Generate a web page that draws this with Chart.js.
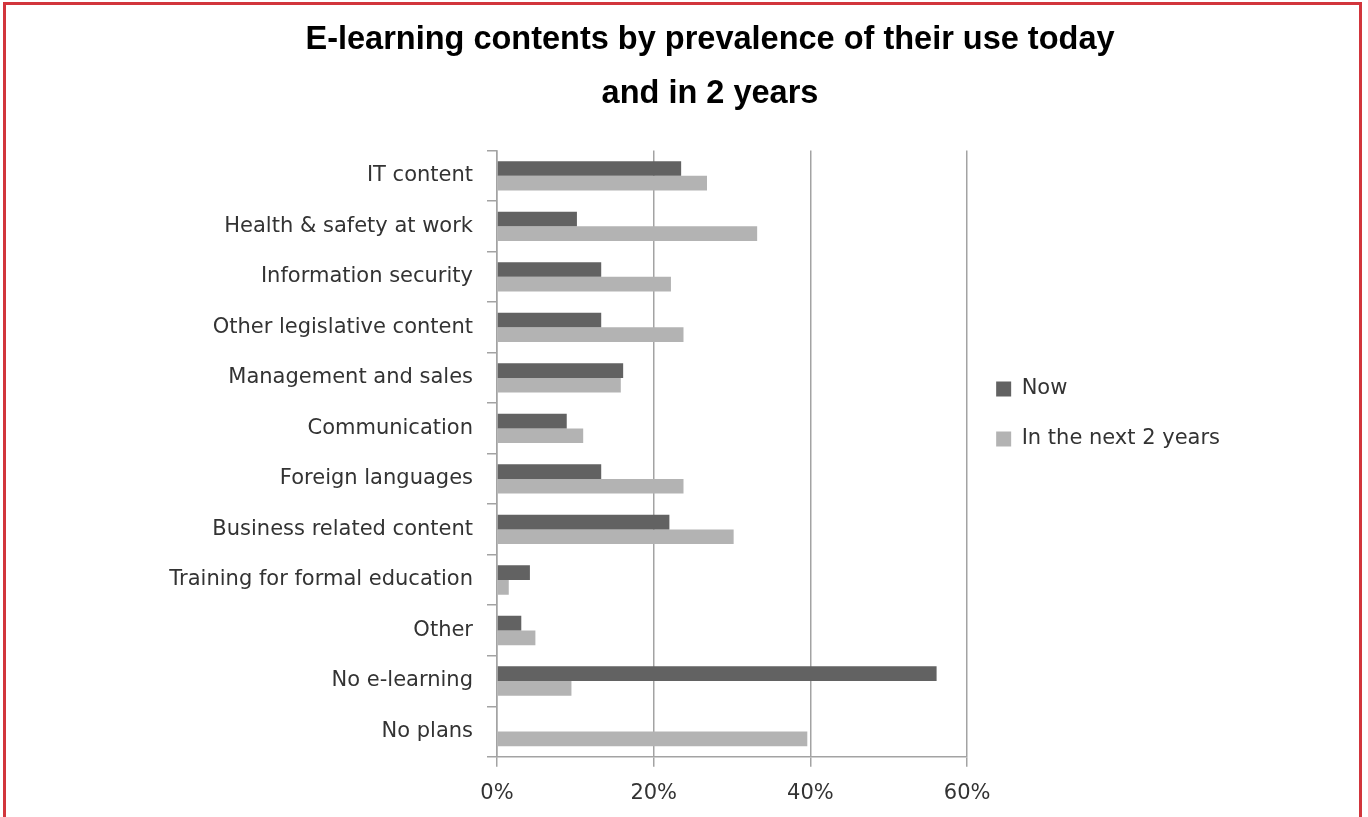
<!DOCTYPE html>
<html>
<head>
<meta charset="utf-8">
<script src="https://cdn.jsdelivr.net/npm/chart.js@4.4.1/dist/chart.umd.min.js"></script>
<style>
  html, body { margin: 0; padding: 0; background: #fff; overflow: hidden; }
  #frame { position: absolute; left: 3px; top: 2px; width: 1359px; height: 830px; border: 3px solid #d2353c; box-sizing: border-box; pointer-events: none; }
  #chart { position: absolute; left: 0; top: 0; }
</style>
</head>
<body>
<canvas id="chart" width="1368" height="817"></canvas>
<div id="frame"></div>
<script>
// categories, top to bottom
const categories = [
    "IT content",
    "Health & safety at work",
    "Information security",
    "Other legislative content",
    "Management and sales",
    "Communication",
    "Foreign languages",
    "Business related content",
    "Training for formal education",
    "Other",
    "No e-learning",
    "No plans",
];
// percentages
const nowValues = [23.5, 10.2, 13.3, 13.3, 16.1, 8.9, 13.3, 22.0, 4.2, 3.1, 56.1, 0];
const nextValues = [26.8, 33.2, 22.2, 23.8, 15.8, 11.0, 23.8, 30.2, 1.5, 4.9, 9.5, 39.6];
const xTicks = [0, 20, 40, 60];
const titleLines = ["E-learning contents by prevalence of their use today", "and in 2 years"];

const gridColor = "#a3a3a3";
const textColor = "#333333";
const labelFont = { family: "'DejaVu Sans', sans-serif", size: 21 };

// nudge the title a bit to the right, like the original
const shiftTitle = {
    id: "shiftTitle",
    afterLayout(chart) {
        if (chart.titleBlock) {
            chart.titleBlock.left += 28;
        }
    },
};

const data = {
    labels: categories,
    datasets: [
        { label: "Now", data: nowValues, backgroundColor: "#626262" },
        { label: "In the next 2 years", data: nextValues, backgroundColor: "#b3b3b3" },
    ],
};

const config = {
    type: "bar",
    data: data,
    plugins: [shiftTitle],
    options: {
        indexAxis: "y",
        responsive: false,
        animation: false,
        categoryPercentage: 0.58,
        barPercentage: 1,
        layout: { padding: { left: 162, right: 138, top: 0, bottom: -3 } },
        plugins: {
            title: {
                display: true,
                text: titleLines,
                color: "#000",
                font: { family: "'Liberation Sans', sans-serif", size: 32.5, weight: "bold", lineHeight: 1.67 },
                padding: { top: 13, bottom: 29 },
            },
            legend: {
                position: "right",
                align: "start",
                title: { display: true, text: " ", padding: { top: 335, bottom: 0 } },
                labels: {
                    boxWidth: 15,
                    boxHeight: 15,
                    padding: 29,
                    color: textColor,
                    font: labelFont,
                },
            },
            tooltip: { enabled: false },
        },
        scales: {
            x: {
                min: 0,
                max: 60,
                afterBuildTicks: (axis) => { axis.ticks = xTicks.map(v => ({ value: v })); },
                grid: { color: gridColor, lineWidth: 1.5, tickLength: 10 },
                border: { color: gridColor, width: 1.5 },
                ticks: {
                    color: textColor,
                    padding: 14,
                    font: labelFont,
                    callback: (v) => v + "%",
                },
            },
            y: {
                afterFit: (scale) => { scale.width = 335; },
                grid: { drawOnChartArea: false, color: gridColor, lineWidth: 1.5, tickLength: 10 },
                border: { color: gridColor, width: 1.5 },
                ticks: {
                    color: textColor,
                    padding: 14,
                    font: labelFont,
                },
            },
        },
    },
};

new Chart(document.getElementById("chart"), config);
</script>
</body>
</html>
